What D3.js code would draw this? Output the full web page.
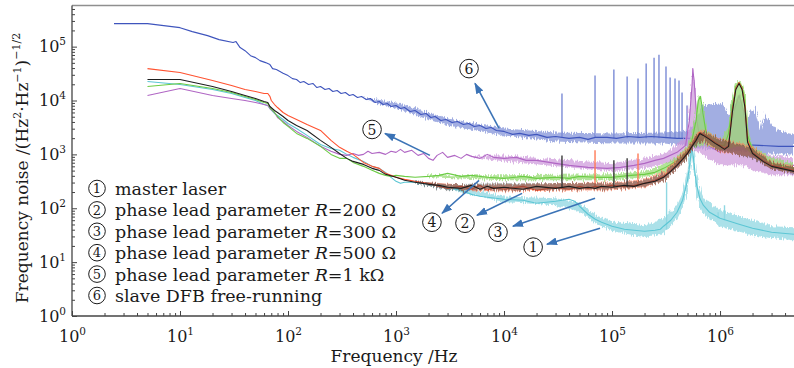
<!DOCTYPE html>
<html>
<head>
<meta charset="utf-8">
<script src="https://cdn.jsdelivr.net/npm/d3@7"></script>
<style>
  body { margin: 0; background: #fff; }
  svg { display: block; }
  text { font-family: "DejaVu Serif", serif; fill: #1a1a1a; }
</style>
</head>
<body>
<svg id="chart" width="794" height="368"></svg>
<script>
// ---- data: [frequency Hz, noise Hz/Hz^0.5] ----
const slaveLine = [[2.45,2.67e5],[5,2.67e5],[10,2.25e5],[13,1.9e5],[18,1.6e5],[23,1.35e5],[31,1.19e5],[33,1.24e5],[36,9.6e4],[40,8.4e4],[45,6.8e4],[50,6.25e4],[55,5.5e4],[62,5.05e4],[68,4.64e4],[72,3.91e4],[78,3.75e4],[90,3.2e4],[100,2.9e4],[110,2.55e4],[120,2.45e4],[130,2.15e4],[140,2.25e4],[155,1.98e4],[170,2.07e4],[185,1.74e4],[200,1.82e4],[220,1.6e4],[240,1.67e4],[260,1.47e4],[285,1.53e4],[310,1.35e4],[340,1.41e4],[370,1.24e4],[400,1.29e4],[440,1.14e4],[480,1.19e4],[530,1.04e4],[580,1.09e4],[640,9.18e3],[700,9.58e3],[760,8.42e3],[830,8.8e3],[900,7.74e3],[1000,8.07e3],[1100,7.1e3],[1200,7.41e3],[1350,6.25e3],[1500,6.52e3],[1700,5.5e3],[1900,5.74e3],[2100,4.84e3],[2300,5.05e3],[2600,4.26e3],[2900,4.45e3],[3300,3.91e3],[3700,4.08e3],[4200,3.59e3],[4700,3.75e3],[5300,3.3e3],[6000,3.44e3],[6800,3.03e3],[7600,3.16e3],[8500,2.78e3],[1e4,2.67e3],[1.2e4,2.35e3],[1.4e4,2.45e3],[1.7e4,2.25e3],[2e4,2.35e3],[2.5e4,2.07e3],[3e4,2.15e3],[4e4,1.98e3],[5e4,2.07e3],[6e4,1.9e3],[7e4,2.07e3],[9e4,2.07e3],[1.1e5,1.98e3],[1.4e5,2.15e3],[1.8e5,2.07e3],[2.3e5,2.15e3],[3e5,2.07e3],[4e5,1.98e3],[5.3e5,1.98e3],[7e5,1.82e3],[1e6,1.67e3],[1.5e6,1.53e3],[2.3e6,1.47e3],[3.5e6,1.41e3],[4.84e6,1.41e3]];
// [frequency, low, high] envelope of the noisy trace
const slaveBand = [[500,1.09e4,1.14e4],[1000,7.1e3,9.18e3],[3000,3.44e3,4.64e3],[1e4,2.25e3,3.03e3],[3e4,1.74e3,2.56e3],[1e5,1.6e3,2.45e3],[3e5,1.6e3,2.56e3],[5.3e5,1.41e3,2.78e3],[6e5,1.29e3,4.84e3],[7e5,1.29e3,8.07e3],[8e5,1.24e3,8.42e3],[1e6,1.19e3,8.8e3],[1.1e6,1.19e3,8.07e3],[1.2e6,1.14e3,5.27e3],[1.3e6,1.14e3,8.07e3],[1.45e6,1.14e3,1.09e4],[1.6e6,1.14e3,8.07e3],[1.75e6,1.09e3,3.44e3],[1.9e6,1.09e3,5.99e3],[2.05e6,1.09e3,7.41e3],[2.2e6,1.09e3,5.27e3],[2.4e6,1.09e3,2.78e3],[2.6e6,1.04e3,5.74e3],[2.8e6,1.04e3,4.64e3],[3.1e6,1.04e3,3.3e3],[3.5e6,1e3,2.78e3],[4e6,1e3,2.56e3],[4.84e6,1e3,2.35e3]];
// [frequency, base, top] of the narrow spurs
const slaveSpikes = [[3.44e4,2.07e3,1.35e4],[6.96e4,2.07e3,2.9e4],[1.04e5,2e3,3.75e4],[1.38e5,2e3,2.78e4],[1.74e5,2e3,2.55e4],[2.07e5,2e3,4.84e4],[2.45e5,2e3,6.25e4],[2.72e5,2e3,7.1e4],[3.16e5,2e3,4.26e4],[3.45e5,2e3,2.67e4],[3.83e5,2e3,2.55e4],[4.17e5,2e3,2.35e4],[4.45e5,2e3,1.41e4],[4.95e5,2e3,8.1e3]];

const masterLine = [[5,2.25e4],[10,1.98e4],[20,1.6e4],[30,1.35e4],[40,1.14e4],[50,1e4],[60,8.42e3],[65,8.07e3],[68,7.1e3],[75,5.74e3],[80,5.27e3],[90,4.45e3],[100,3.75e3],[120,3.03e3],[150,2.25e3],[200,1.53e3],[250,1.29e3],[300,1.19e3],[350,1e3],[400,880],[500,741],[600,599],[700,550],[800,464],[900,375],[1000,316],[1100,290],[1200,303],[1500,303],[2000,290],[2500,255],[3000,245],[4000,215],[5000,181],[6000,167],[7000,160],[1e4,147],[1.5e4,141],[2e4,124],[3e4,135],[4e4,147],[4.5e4,135],[5e4,109],[6e4,77.4],[7e4,62.5],[8e4,55],[1e5,46.4],[1.3e5,40.8],[1.6e5,39.1],[2e5,37.5],[2.5e5,39.1],[2.8e5,40.8],[3e5,46.4],[3.5e5,59.9],[4e5,84.2],[4.5e5,141],[5e5,330],[5.3e5,774],[5.5e5,1.47e3],[5.7e5,774],[6e5,303],[6.5e5,153],[7e5,114],[8e5,84.2],[1e6,65.2],[1.5e6,50.5],[2e6,42.6],[3e6,35.9],[4.84e6,33]];
const masterBand = [[1500,290,316],[3000,225,266],[1e4,130,166],[3e4,114,153],[5e4,88,128],[7e4,52.7,74],[1e5,38,57.4],[2e5,29,48.4],[3e5,34.4,65.2],[4e5,62.5,114],[4.5e5,100,189],[5e5,225,484],[5.5e5,880,2.45e3],[6e5,198,464],[6.5e5,109,215],[7e5,77.4,153],[1e6,46.4,91.8],[2e6,31.6,59.9],[3e6,27.8,46.4],[4.84e6,25.5,44.4]];
const masterSpikes = [[3.2e5,40,303],[9.6e5,65,84],[1.1e6,60,114]];

const r1kLine = [[5,1.24e4],[10,1.67e4],[20,1.24e4],[30,1.09e4],[40,1e4],[50,9.18e3],[60,8.42e3],[65,8.07e3],[68,7.1e3],[75,5.99e3],[80,4.84e3],[90,4.08e3],[100,3.44e3],[120,2.67e3],[150,2.07e3],[200,1.41e3],[250,1.14e3],[300,1e3],[350,958],[400,1.04e3],[450,958],[500,1e3],[550,1.14e3],[600,1.04e3],[700,1.09e3],[800,1e3],[900,1.14e3],[1000,1.09e3],[1100,1.24e3],[1200,1.09e3],[1400,1.19e3],[1600,958],[1800,1.04e3],[2000,843],[2200,774],[2400,958],[2700,1.09e3],[3000,880],[3500,958],[4000,843],[4500,1e3],[5000,918],[6000,843],[7000,1e3],[8000,880],[1e4,843],[1.3e4,880],[1.6e4,774],[2e4,774],[3e4,681],[4e4,625],[6e4,574],[9e4,550],[1.2e5,574],[1.6e5,625],[2e5,681],[2.5e5,774],[3e5,843],[4e5,1.09e3],[4.8e5,1.47e3],[5.2e5,4.26e3],[5.5e5,1.9e4],[5.6e5,3.91e4],[5.8e5,1.9e4],[6.1e5,4.26e3],[6.5e5,1.98e3],[7e5,1.67e3],[8e5,1.41e3],[1e6,1.09e3],[1.2e6,1.82e3],[1.35e6,6.52e3],[1.5e6,1.24e4],[1.65e6,6.52e3],[1.8e6,1.47e3],[2e6,958],[2.5e6,774],[3e6,681],[4.84e6,625]];
const r1kBand = [[5000,880,958],[1e4,741,958],[1e5,484,681],[2e5,550,843],[3e5,652,1.04e3],[4e5,774,1.47e3],[4.8e5,1e3,2.15e3],[5.2e5,1.09e3,6e3],[5.5e5,1.19e3,2.45e4],[5.6e5,1.19e3,4.08e4],[5.8e5,1.19e3,2.45e4],[6.1e5,1.09e3,6e3],[6.5e5,1.09e3,2.9e3],[7e5,958,2.56e3],[1e6,625,1.53e3],[1.2e6,625,2.78e3],[1.35e6,625,8.8e3],[1.5e6,625,1.41e4],[1.65e6,625,8.8e3],[1.8e6,574,2.45e3],[2e6,505,1.29e3],[3e6,408,958],[4.84e6,408,880]];

const r500Line = [[5,1.82e4],[10,2.07e4],[20,1.67e4],[30,1.41e4],[40,1.19e4],[50,1.04e4],[60,9.18e3],[65,8.8e3],[68,7.41e3],[75,5.99e3],[80,5.05e3],[90,3.91e3],[100,3.3e3],[120,2.45e3],[150,1.98e3],[200,1.41e3],[250,1e3],[300,843],[350,843],[400,710],[500,599],[600,505],[700,444],[800,408],[900,391],[1000,408],[1200,391],[1500,375],[2000,391],[2500,408],[3000,444],[4000,391],[5000,408],[7000,375],[1e4,359],[1.5e4,391],[2e4,359],[3e4,375],[4e4,359],[5e4,391],[7e4,375],[1e5,375],[1.5e5,408],[2e5,426],[2.5e5,464],[3e5,550],[3.5e5,652],[4e5,774],[4.5e5,918],[5e5,1.19e3],[5.5e5,1.82e3],[6e5,4.26e3],[6.3e5,1e4],[6.6e5,1.19e4],[7e5,5.27e3],[7.5e5,2.25e3],[8e5,1.98e3],[9e5,1.67e3],[1e6,1.47e3],[1.1e6,1.47e3],[1.2e6,2.45e3],[1.3e6,8.07e3],[1.4e6,1.82e4],[1.5e6,2.15e4],[1.6e6,1.82e4],[1.7e6,1e4],[1.8e6,2.25e3],[2e6,1.19e3],[2.5e6,880],[3e6,681],[4e6,599],[4.84e6,550]];
const r500Band = [[2000,375,408],[1e4,330,408],[1e5,330,426],[2e5,375,484],[3e5,464,652],[4e5,652,918],[5e5,958,1.47e3],[5.5e5,1.35e3,2.45e3],[6e5,1.35e3,6.52e3],[6.3e5,1.41e3,1.19e4],[6.6e5,1.41e3,1.24e4],[7e5,1.47e3,7.1e3],[7.5e5,1.47e3,2.9e3],[1e6,1.19e3,1.82e3],[1.2e6,1.29e3,3.44e3],[1.3e6,1.35e3,1.09e4],[1.4e6,1.41e3,2.07e4],[1.5e6,1.41e3,2.35e4],[1.6e6,1.35e3,2.07e4],[1.7e6,1.29e3,1.35e4],[1.8e6,1.19e3,3.3e3],[2e6,958,1.41e3],[3e6,574,880],[4.84e6,464,681]];

const r200Line = [[5,3.91e4],[10,3.3e4],[20,2.35e4],[30,1.9e4],[40,1.6e4],[50,1.47e4],[60,1.35e4],[65,1.35e4],[68,1.19e4],[70,1e4],[75,8.42e3],[80,7.41e3],[90,5.99e3],[100,5.27e3],[120,4.45e3],[150,3.59e3],[200,2.78e3],[250,1.82e3],[300,1.35e3],[350,1.14e3],[400,1e3],[500,710],[600,599],[700,550],[800,444],[900,408],[1000,375],[1200,344],[1500,316],[2000,290],[2500,255],[3000,234],[4000,255],[5000,225],[6000,266],[7000,215],[8000,245],[1e4,225],[1.5e4,255],[2e4,215],[3e4,245],[4e4,225],[5e4,255],[6e4,234],[7e4,255],[8e4,245],[1e5,266],[1.3e5,255],[1.6e5,266],[2e5,290],[2.5e5,330],[3e5,391],[3.5e5,505],[4e5,652],[4.5e5,843],[5e5,1.09e3],[5.5e5,1.47e3],[6e5,1.98e3],[6.5e5,2.56e3],[7e5,2.35e3],[8e5,1.98e3],[9e5,1.67e3],[1e6,1.47e3],[1.1e6,1.29e3],[1.2e6,1.47e3],[1.3e6,6.52e3],[1.4e6,1.67e4],[1.5e6,2.15e4],[1.6e6,1.67e4],[1.7e6,8.07e3],[1.8e6,1.82e3],[2e6,1.09e3],[2.5e6,774],[3e6,625],[4e6,550],[4.84e6,505]];
const r200Band = [[2000,278,303],[5000,206,266],[1e4,206,278],[1e5,215,303],[2e5,245,344],[3e5,316,484],[4e5,527,843],[5e5,918,1.35e3],[6e5,1.6e3,2.45e3],[7e5,1.74e3,2.9e3],[1e6,1.09e3,1.98e3],[2e6,880,1.41e3],[3e6,527,741],[4.84e6,444,599]];
const r200Spikes = [[6.96e4,255,1.19e3],[1.74e5,266,1.04e3]];

const r300Line = [[5,2.45e4],[10,2.45e4],[20,1.82e4],[30,1.47e4],[40,1.24e4],[50,1.09e4],[60,9.58e3],[65,9.18e3],[68,7.74e3],[75,6.52e3],[80,5.99e3],[90,5.05e3],[100,4.26e3],[120,3.44e3],[150,2.78e3],[200,1.82e3],[250,1.35e3],[300,1.04e3],[350,843],[400,741],[500,652],[600,550],[700,505],[800,426],[1000,375],[1200,330],[1500,303],[2000,278],[2500,266],[3000,245],[4000,234],[5000,266],[6000,225],[7000,255],[8000,234],[1e4,245],[1.5e4,225],[2e4,255],[3e4,234],[4e4,255],[5e4,234],[6e4,245],[7e4,234],[8e4,255],[1e5,245],[1.3e5,266],[1.6e5,255],[2e5,290],[2.5e5,316],[3e5,375],[3.5e5,484],[4e5,625],[4.5e5,808],[5e5,1.04e3],[5.5e5,1.41e3],[6e5,1.82e3],[6.5e5,2.45e3],[7e5,2.25e3],[8e5,1.9e3],[9e5,1.6e3],[1e6,1.41e3],[1.1e6,1.24e3],[1.2e6,1.41e3],[1.3e6,6e3],[1.4e6,1.6e4],[1.5e6,2.07e4],[1.6e6,1.6e4],[1.7e6,7.41e3],[1.8e6,1.67e3],[2e6,1.04e3],[2.5e6,741],[3e6,599],[4e6,527],[4.84e6,484]];
const r300Band = [[1500,290,316],[3000,215,278],[1e4,215,290],[1e5,225,290],[2e5,255,330],[3e5,316,444],[4e5,527,774],[5e5,880,1.24e3],[6e5,1.47e3,2.25e3],[7e5,1.82e3,2.67e3],[1e6,1.14e3,1.9e3],[2e6,843,1.29e3],[3e6,527,708],[4.84e6,426,574]];
const r300Spikes = [[3.44e4,245,958],[1.04e5,245,774],[1.38e5,245,843]];

// ---- axes ----
const xMajor = [1, 10, 100, 1e3, 1e4, 1e5, 1e6];
const yMajor = [1, 10, 100, 1e3, 1e4, 1e5];
const xExp = ["0", "1", "2", "3", "4", "5", "6"];
const yExp = ["0", "1", "2", "3", "4", "5"];

// ---- legend and callouts ----
const marks = ["1", "2", "3", "4", "5", "6"];
const legendText = [
  ["master laser"],
  ["phase lead parameter ", "R", "=200 Ω"],
  ["phase lead parameter ", "R", "=300 Ω"],
  ["phase lead parameter ", "R", "=500 Ω"],
  ["phase lead parameter ", "R", "=1 kΩ"],
  ["slave DFB free-running"]
];
// callout label position, arrow tail (on the curve), arrow head (at the label)
const calloutAt   = [[1.86e4,19],[4.35e3,52.7],[8.8e3,35.9],[2.15e3,55],[600,2.9e3],[4.74e3,3.91e4]];
const arrowTail   = [[7.74e4,42.6],[1.47e4,189],[6.96e4,153],[5.87e3,330],[2.06e3,958],[9e3,3.03e3]];
const arrowHead   = [[2.5e4,21.5],[5.62e3,74.2],[1.21e4,46.4],[2.67e3,80.7],[791,2.45e3],[5.39e3,2.07e4]];

const svg = d3.select("#chart");
const plotL = 72, plotR = 794, plotT = 5.5, plotB = 316;

const x = d3.scaleLog().domain([1, 4.84e6]).range([plotL, plotR]);
const y = d3.scaleLog().domain([1, 5.8e5]).range([plotB, plotT]);

const defs = svg.append("defs");
defs.append("clipPath").attr("id", "plotClip")
  .append("rect").attr("x", plotL).attr("y", plotT).attr("width", plotR - plotL).attr("height", plotB - plotT);
defs.append("marker")
  .attr("id", "head").attr("viewBox", "0 0 10 10").attr("refX", 9).attr("refY", 5)
  .attr("markerWidth", 7).attr("markerHeight", 7).attr("orient", "auto")
  .append("path").attr("d", "M0,1.5 L10,5 L0,8.5 Z").attr("fill", "#3b73b6");
// grainy texture so the noise envelopes read as dense traces rather than ribbons
const rough = defs.append("filter").attr("id", "rough")
  .attr("x", "-2%").attr("y", "-30%").attr("width", "104%").attr("height", "160%");
rough.append("feTurbulence").attr("type", "fractalNoise").attr("baseFrequency", "0.9 0.06")
  .attr("numOctaves", 2).attr("seed", 4).attr("result", "n");
rough.append("feDisplacementMap").attr("in", "SourceGraphic").attr("in2", "n")
  .attr("scale", 7).attr("xChannelSelector", "B").attr("yChannelSelector", "R");

const plot = svg.append("g").attr("clip-path", "url(#plotClip)");

const line = d3.line().x(d => x(d[0])).y(d => y(d[1]));
const band = d3.area().x(d => x(d[0])).y0(d => y(d[1])).y1(d => y(d[2]));

function spectrum(lineData, bandData, spikes, color, bandColor, bandOpacity) {
  if (bandData) {
    plot.append("path").datum(bandData).attr("d", band)
      .attr("fill", bandColor).attr("fill-opacity", bandOpacity)
      .attr("filter", "url(#rough)");
  }
  if (spikes) {
    plot.selectAll(null).data(spikes).enter().append("line")
      .attr("x1", d => x(d[0])).attr("x2", d => x(d[0]))
      .attr("y1", d => y(d[1])).attr("y2", d => y(d[2]))
      .attr("stroke", bandColor).attr("stroke-width", 1.4);
  }
  plot.append("path").datum(lineData).attr("d", line)
    .attr("fill", "none").attr("stroke", color).attr("stroke-width", 1.1)
    .attr("stroke-linejoin", "round");
}

spectrum(slaveLine, slaveBand, slaveSpikes, "#3f55bd", "#7b8bd6", 0.7);
spectrum(masterLine, masterBand, masterSpikes, "#5cc6d4", "#8fd7e2", 0.75);
spectrum(r1kLine, r1kBand, null, "#b066c4", "#cc96da", 0.7);
spectrum(r500Line, r500Band, null, "#6ccc45", "#98db76", 0.75);
spectrum(r200Line, r200Band, r200Spikes, "#ff5230", "#ff7a55", 0.6);
spectrum(r300Line, r300Band, r300Spikes, "#1e1e1e", "#3a3a3a", 0.45);

// ---- frame and axes ----
svg.append("line").attr("x1", plotL).attr("x2", plotR).attr("y1", plotT).attr("y2", plotT)
  .attr("stroke", "#8f8f8f").attr("stroke-width", 1.6);

function minorTicks(majors, max) {
  const out = [];
  majors.forEach(m => { for (let k = 2; k <= 9; k++) if (m * k <= max) out.push(m * k); });
  return out;
}

const xAxisMinor = d3.axisBottom(x).tickValues(minorTicks(xMajor, 4.84e6)).tickSize(-3).tickFormat("");
const xAxisMajor = d3.axisBottom(x).tickValues(xMajor).tickSize(-5).tickFormat("");
const yAxisMinor = d3.axisLeft(y).tickValues(minorTicks(yMajor, 5.8e5)).tickSize(-3).tickFormat("");
const yAxisMajor = d3.axisLeft(y).tickValues(yMajor).tickSize(-5).tickFormat("");

function styleAxis(g) {
  g.select(".domain").remove();
  g.selectAll(".tick line").attr("stroke", "#444").attr("stroke-width", 1);
}
svg.append("g").attr("transform", `translate(0,${plotB})`).call(xAxisMinor).call(styleAxis);
const gx = svg.append("g").attr("transform", `translate(0,${plotB})`).call(xAxisMajor).call(styleAxis);
svg.append("g").attr("transform", `translate(${plotL},0)`).call(yAxisMinor).call(styleAxis);
const gy = svg.append("g").attr("transform", `translate(${plotL},0)`).call(yAxisMajor).call(styleAxis);

svg.append("line").attr("x1", plotL).attr("x2", plotR).attr("y1", plotB).attr("y2", plotB)
  .attr("stroke", "#444").attr("stroke-width", 1.3);
svg.append("line").attr("x1", plotL).attr("x2", plotL).attr("y1", plotT).attr("y2", plotB)
  .attr("stroke", "#444").attr("stroke-width", 1.3);

gx.selectAll(".tick text").remove();
gy.selectAll(".tick text").remove();
gx.selectAll(".tick").each(function(d, i) {
  const t = d3.select(this).append("text").attr("y", 26).attr("text-anchor", "middle")
    .style("font-size", "16px").attr("fill", "#1a1a1a");
  t.append("tspan").text("10");
  t.append("tspan").attr("dy", -7).style("font-size", "10.5px").text(xExp[i]);
});
gy.selectAll(".tick").each(function(d, i) {
  const t = d3.select(this).append("text").attr("x", -6).attr("y", 5).attr("text-anchor", "end")
    .style("font-size", "16px").attr("fill", "#1a1a1a");
  t.append("tspan").text("10");
  t.append("tspan").attr("dy", -7).style("font-size", "10.5px").text(yExp[i]);
});

// axis titles
svg.append("text").attr("x", 394).attr("y", 362).attr("text-anchor", "middle")
  .style("font-size", "17px").text("Frequency /Hz");

const yt = svg.append("text").attr("transform", "translate(28,168) rotate(-90)")
  .attr("text-anchor", "middle").style("font-size", "17px");
yt.append("tspan").text("Frequency noise /(Hz");
yt.append("tspan").attr("dy", -7).style("font-size", "11px").text("2");
yt.append("tspan").attr("dy", 7).text("·Hz");
yt.append("tspan").attr("dy", -7).style("font-size", "11px").text("−1");
yt.append("tspan").attr("dy", 7).text(")");
yt.append("tspan").attr("dy", -8).style("font-size", "11px").text("−1/2");

// circled number: a ring with the digit inside
function circled(g, cx, cy, r, label, size) {
  g.append("circle").attr("cx", cx).attr("cy", cy).attr("r", r)
    .attr("fill", "#fff").attr("fill-opacity", 0).attr("stroke", "#1a1a1a").attr("stroke-width", 1);
  g.append("text").attr("x", cx).attr("y", cy + size * 0.36).attr("text-anchor", "middle")
    .style("font-size", size + "px").text(label);
}

// legend
const lg = svg.append("g");
legendText.forEach((parts, i) => {
  const yy = 195 + i * 21.4;
  circled(lg, 97, yy - 6.5, 8.3, marks[i], 13);
  const t = lg.append("text").attr("x", 115).attr("y", yy).style("font-size", "17.5px");
  parts.forEach(p => {
    const s = t.append("tspan").text(p);
    if (p === "R") s.style("font-style", "italic");
  });
});

// callouts
const co = svg.append("g");
arrowTail.forEach((d, i) => {
  co.append("line")
    .attr("x1", x(d[0])).attr("y1", y(d[1]))
    .attr("x2", x(arrowHead[i][0])).attr("y2", y(arrowHead[i][1]))
    .attr("stroke", "#3b73b6").attr("stroke-width", 1.6)
    .attr("marker-end", "url(#head)");
});
calloutAt.forEach((d, i) => {
  circled(co, x(d[0]), y(d[1]), 9.3, marks[i], 14);
});
</script>
</body>
</html>
